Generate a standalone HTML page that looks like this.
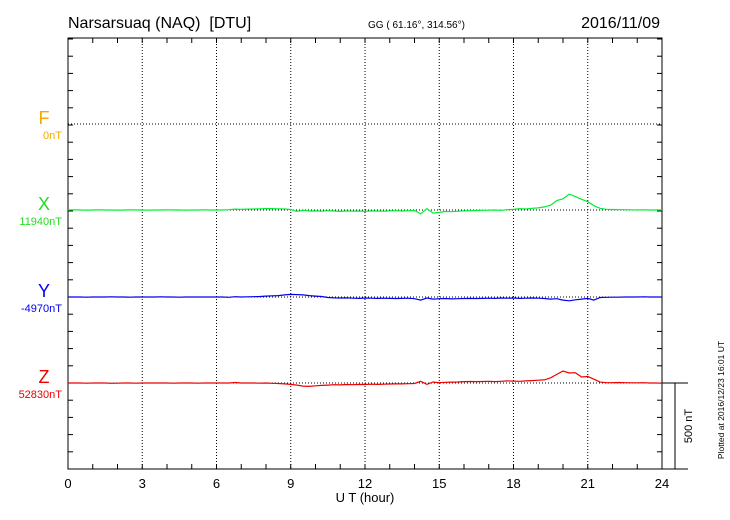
<!DOCTYPE html>
<html><head><meta charset="utf-8"><style>
body{margin:0;background:#fff}
svg{display:block;font-family:"Liberation Sans",sans-serif}
</style></head><body>
<svg id="c" width="730" height="520" xmlns="http://www.w3.org/2000/svg">
<text x="68" y="28" font-size="16">Narsarsuaq (NAQ)&#160; [DTU]</text>
<text x="368" y="28" font-size="10">GG ( 61.16°, 314.56°)</text>
<text x="660" y="28" font-size="16" text-anchor="end">2016/11/09</text>
<text x="365" y="502" font-size="13" text-anchor="middle">U T (hour)</text>
<text transform="translate(724,400) rotate(-90)" font-size="8.5" text-anchor="middle">Plotted at 2016/12/23 16:01  UT</text>
<g id="grid"></g><g id="axes"></g><g id="series"></g><g id="labels"></g>
</svg>
<script>
const hours = [0,3,6,9,12,15,18,21,24];
const xVals = [0,1,0,-1,0,1,0,0,-1,0,1,0,0,-1,0,0,1,0,0,-1,0,0,1,0,
0,0,2,5,4,5,6,7,8,8,7,6,
3,-8,-2,-6,-5,-7,-4,-6,-8,-5,-7,-6,-8,-5,-6,-7,
-5,-4,-6,-4,-3,-22,8,-18,-14,-8,-10,-7,
-5,-4,-3,-2,-1,0,-2,2,4,8,6,10,
12,18,28,55,65,92,78,62,48,25,10,4,
3,2,2,1,0,1,0,0,0];
const yVals = [0,0,0,-1,0,0,0,1,0,0,-1,0,0,0,0,1,0,0,-1,0,0,0,0,0,
0,0,-2,2,0,1,2,3,5,7,8,12,
15,14,12,8,5,3,-3,-5,-6,-5,-7,-8,-6,-7,-8,-7,
-8,-9,-8,-7,-10,-18,-6,-12,-10,-9,-11,-10,
-9,-8,-9,-8,-7,-8,-6,-7,-6,-8,-7,-6,
-7,-9,-12,-10,-18,-22,-16,-12,-8,-18,-3,-2,
-1,-1,0,0,0,1,0,0,0];
const zVals = [0,0,0,-1,0,0,0,-2,-1,0,0,-1,0,0,0,0,0,-1,0,0,0,-1,0,0,
0,0,0,3,0,0,0,-1,0,-2,-3,-5,
-8,-12,-18,-20,-16,-14,-12,-10,-11,-9,-10,-8,-9,-7,-8,-7,
-6,-5,-5,-4,-3,10,-8,6,2,4,5,6,
8,9,8,9,10,8,10,12,11,10,12,14,
16,18,30,50,70,58,60,35,38,22,5,2,
2,3,2,1,1,2,0,0,-1];
const comps = ['F','X','Y','Z'];
const baseLabels = ['0nT','11940nT','-4970nT','52830nT'];
const colors = ['#f5a800','#22dd22','#0000ee','#ee0000'];
const lineColors = [null,'#00ee33','#0000ee','#ee0000'];

const L=68,R=662,T=38,B=469;
const X = h => L + h/24*(R-L);
const bases=[124,210,297,383];
const pxPerNT = 86/500;
const NS='http://www.w3.org/2000/svg';
function mk(tag,attrs,parent){const e=document.createElementNS(NS,tag);for(const k in attrs)e.setAttribute(k,attrs[k]);parent.appendChild(e);return e;}
const grid=document.getElementById('grid'),axes=document.getElementById('axes'),ser=document.getElementById('series'),lab=document.getElementById('labels');

hours.forEach(h=>{
  if(h>0&&h<24){const l=mk('line',{x1:X(h),x2:X(h),y1:T,y2:B,stroke:'#000','stroke-width':1,'stroke-dasharray':'1,2'},grid);
  
  }
  const t=mk('text',{x:X(h),y:488,'font-size':13,'text-anchor':'middle'},lab);
  t.textContent=h;
  
  
});
bases.forEach((b,i)=>{
  const l=mk('line',{x1:L,x2:R,y1:b,y2:b,stroke:'#000','stroke-width':1,'stroke-dasharray':'1,2'},grid);
  
  
  const t=mk('text',{x:44,y:b,'font-size':18,'text-anchor':'middle',fill:colors[i]},lab);
  t.textContent=comps[i];
  
  
  const t2=mk('text',{x:62,y:b+15,'font-size':11,'text-anchor':'end',fill:colors[i]},lab);
  t2.textContent=baseLabels[i];
  
  
});
const fr=mk('rect',{x:L,y:T,width:R-L,height:B-T,fill:'none',stroke:'#000','stroke-width':1},axes);


mk('line',{x1:R,x2:688,y1:B,y2:B,stroke:'#000'},axes);
for(let h=1;h<24;h++){
  mk('line',{x1:X(h),x2:X(h),y1:T,y2:T+5,stroke:'#000'},axes);
  mk('line',{x1:X(h),x2:X(h),y1:B,y2:B-5,stroke:'#000'},axes);
}
for(let y=B;y>T;y-=86/5){
  mk('line',{x1:L,x2:L+5,y1:y,y2:y,stroke:'#000'},axes);
  mk('line',{x1:R,x2:R-5,y1:y,y2:y,stroke:'#000'},axes);
}
const sb=mk('g',{},axes);


mk('line',{x1:R,x2:688,y1:383,y2:383,stroke:'#000'},sb);
mk('line',{x1:675,x2:675,y1:383,y2:B,stroke:'#000'},sb);
mk('text',{transform:'translate(692,426) rotate(-90)','font-size':11,'text-anchor':'middle'},sb).textContent='500 nT';
[[xVals,1],[yVals,2],[zVals,3]].forEach(([vals,i])=>{
  const pts=vals.map((v,k)=>X(k*24/(vals.length-1)).toFixed(1)+','+(bases[i]-v*pxPerNT).toFixed(1)).join(' ');
  const p=mk('polyline',{points:pts,fill:'none',stroke:lineColors[i],'stroke-width':1.2},ser);
  
  
});
</script>
</body></html>
